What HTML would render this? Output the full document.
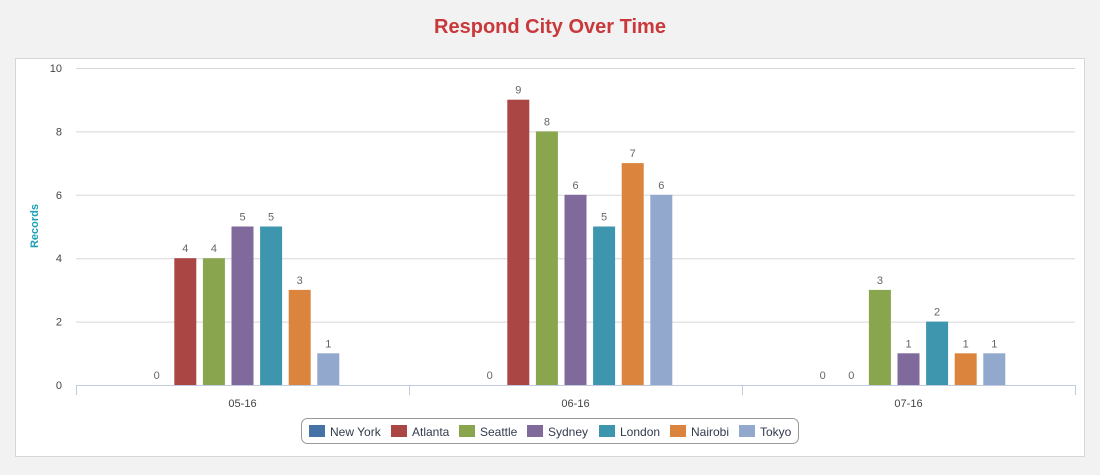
<!DOCTYPE html>
<html><head><meta charset="utf-8"><style>
body{margin:0;background:#f2f2f2;font-family:"Liberation Sans",Arial,sans-serif;}
svg{display:block}
</style></head><body>
<svg id="c" width="1100" height="475" xmlns="http://www.w3.org/2000/svg">
<text x="550" y="33" text-anchor="middle" font-size="20" font-weight="bold" fill="#c9383a">Respond City Over Time</text>
<rect x="15.5" y="58.5" width="1069" height="398" fill="#fff" stroke="#d6d6d6"/>
<g id="grid"></g>
<g id="bars"></g>
<text transform="translate(38,226) rotate(-90)" text-anchor="middle" font-size="11" font-weight="bold" fill="#1a9fb5">Records</text>
<rect x="301.5" y="418.5" width="497" height="25" rx="6" fill="#fff" stroke="#999"/>
<g id="legend"></g>
</svg>
<script>
const categories=["05-16","06-16","07-16"];
const seriesNames=["New York","Atlanta","Seattle","Sydney","London","Nairobi","Tokyo"];
const colors=["#4572a7","#aa4643","#89a54e","#80699b","#3d96ae","#db843d","#92a8cd"];
const newYork=[0,0,0];
const atlanta=[4,9,0];
const seattle=[4,8,3];
const sydney=[5,6,1];
const london=[5,5,2];
const nairobi=[3,7,1];
const tokyo=[1,6,1];
const yTicks=[0,2,4,6,8,10];
const series=[newYork,atlanta,seattle,sydney,london,nairobi,tokyo];
const NS="http://www.w3.org/2000/svg";
const L=76,R=1075,T=68,B=385,yMax=10;
const y=v=>B-(v/yMax)*(B-T);
const cw=(R-L)/categories.length;
const xc=i=>L+cw*(i+0.5);
function mk(t,a,p){const e=document.createElementNS(NS,t);for(const k in a)e.setAttribute(k,a[k]);p.appendChild(e);return e;}
const g=document.getElementById('grid');
yTicks.forEach(v=>{
 const ln=mk('line',{x1:L,x2:R,y1:y(v)+0.5,y2:y(v)+0.5,stroke:v===0?'#c0cbe0':'#d8d8d8'},g);
 
 
 const t=mk('text',{x:62,y:y(v)+4,'text-anchor':'end','font-size':11,fill:'#444'},g);
 t.textContent=v;
 
 
});
for(let i=0;i<=categories.length;i++){
 const x=Math.round(L+cw*i)+0.5;
 const tk=mk('line',{x1:x,x2:x,y1:B,y2:B+10,stroke:'#c0cbe0'},g);
 
 
}
categories.forEach((c,i)=>{
 const t=mk('text',{x:xc(i),y:407,'text-anchor':'middle','font-size':11,fill:'#444'},g);
 t.textContent=c;
 
 
});
const bg=document.getElementById('bars');
const step=28.6,bw=22;
series.forEach((s,si)=>{
 s.forEach((v,i)=>{
  const cx=xc(i)+(si-3)*step;
  if(v>0){
   const r=mk('rect',{x:cx-bw/2,y:y(v),width:bw,height:B-y(v),fill:colors[si]},bg);
   
   
  }
  const t=mk('text',{x:cx,y:y(v)-6,'text-anchor':'middle','font-size':11,fill:'#666'},bg);
  t.textContent=v;
  
  
 });
});
const lg=document.getElementById('legend');
const lx=[309,391,459,527,599,670,739];
seriesNames.forEach((n,i)=>{
 const r=mk('rect',{x:lx[i],y:425,width:16,height:12,fill:colors[i]},lg);
 
 
 const t=mk('text',{x:lx[i]+21,y:436,'font-size':12,fill:'#333a4d'},lg);
 t.textContent=n;
 
 
});
</script>
</body></html>
